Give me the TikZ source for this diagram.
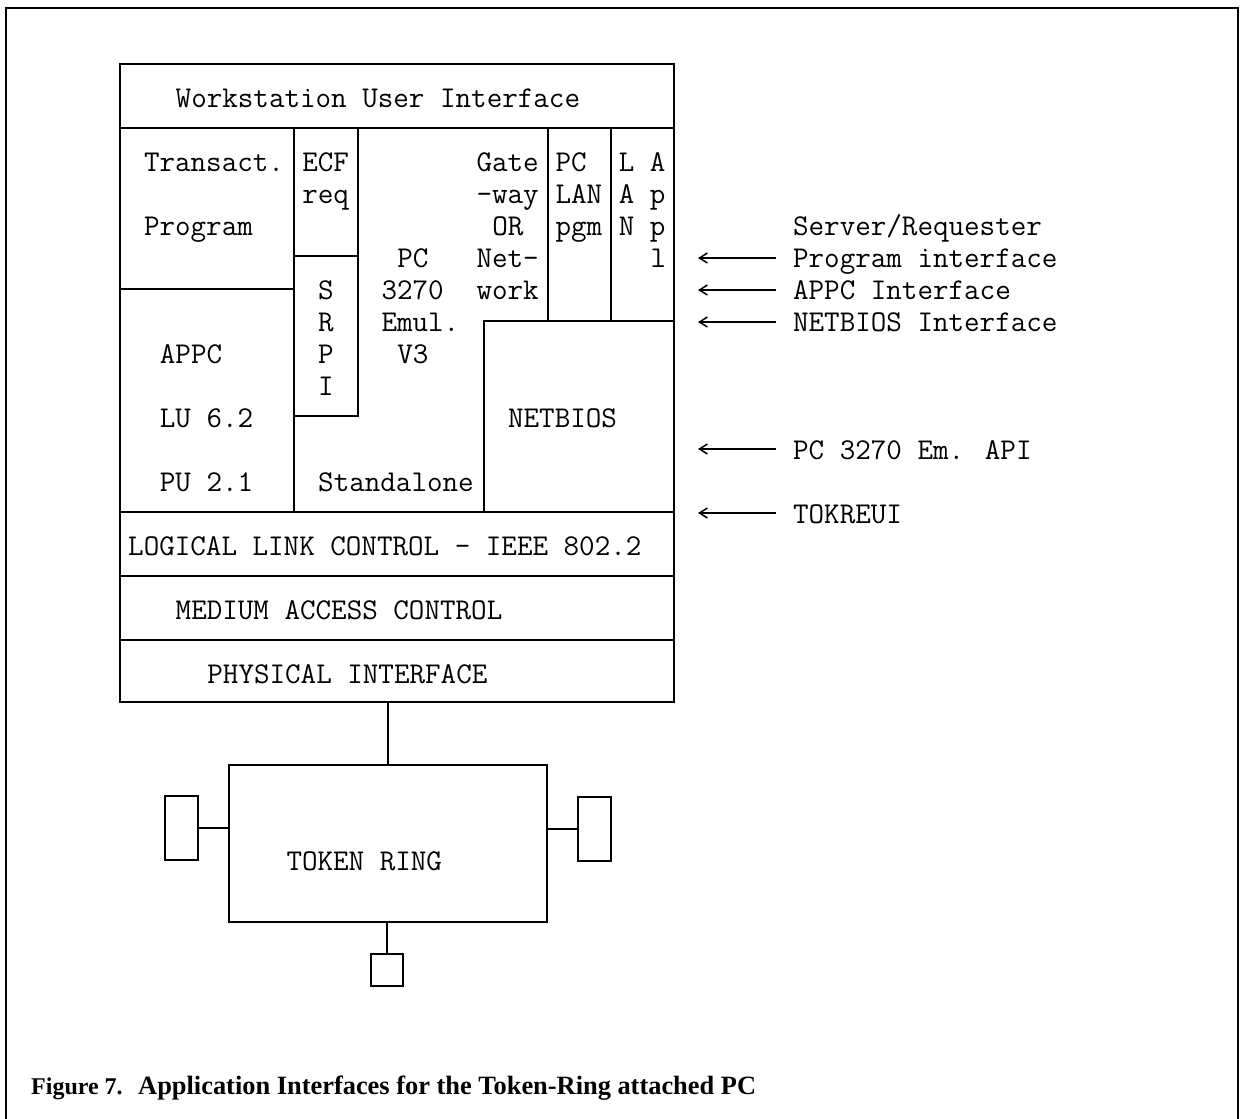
\documentclass[tikz,border=0pt]{standalone}
\usepackage{fontspec}
\newfontfamily\capfont{Liberation Serif}
\usetikzlibrary{arrows.meta,fit}
\newcommand{\twfont}{\ttfamily\fontsize{30.2}{32}\selectfont\addfontfeatures{FakeBold=1.8}}

\begin{document}
\begin{tikzpicture}[x=1pt, y=-1pt,
  layer/.style={draw, line width=2, inner sep=0, outer sep=0},
  txt/.style={anchor=base west, inner sep=0, font=\twfont},
  link/.style={line width=2},
  arrow/.style={{Straight Barb[length=8,width=10]}-, line width=1.5},
  caption/.style={anchor=base west, inner sep=0, font=\capfont\bfseries\fontsize{26.4}{28}\selectfont}
]
\useasboundingbox (0,0) rectangle (1240,1119);
\draw[link] (6,1119) -- (6,8) -- (1238,8) -- (1238,1119);

% layers of the PC
\node[layer, fit={(120,64) (674,702)}] (pc) {};
\node[layer, fit={(120,64) (674,128)}] (wui) {};
\node[layer, fit={(120,128) (294,288.5)}] (tp) {};
\node[layer, fit={(294,128) (357.5,256)}] (ecf) {};
\node[layer, fit={(294,256) (357.5,416)}] (srpi) {};
\node[layer, fit={(120,288.5) (294,512)}] (appc) {};
\node[layer, fit={(547.5,128) (611,321)}] (pclan) {};
\node[layer, fit={(611,128) (674,321)}] (lanapp) {};
\node[layer, fit={(484,321) (674,512)}] (netbios) {};
\node[layer, fit={(120,512) (674,576)}] (llc) {};
\node[layer, fit={(120,576) (674,640)}] (mac) {};
\node[layer, fit={(120,640) (674,702)}] (phy) {};

\node[txt] (wuit) at (175.5,107) {Workstation User Interface};
\node[txt] (tpa) at (143.8,171) {Transact.};
\node[txt] (tpb) at (143.8,235) {Program};
\node[txt] (ecfa) at (302.1,171) {ECF};
\node[txt] (ecfb) at (302.1,203) {req};
\node[txt] (gwa) at (476.3,171) {Gate};
\node[txt] (gwb) at (476.3,203) {-way};
\node[txt] (gwc) at (492.1,235) {OR};
\node[txt] (gwd) at (476.3,267) {Net-};
\node[txt] (gwe) at (476.3,299) {work};
\node[txt] (pcla) at (555.4,171) {PC};
\node[txt] (pclb) at (555.4,203) {LAN};
\node[txt] (pclc) at (555.4,235) {pgm};
\node[txt] (lana) at (618.7,171) {L A};
\node[txt] (lanb) at (618.7,203) {A p};
\node[txt] (lanc) at (618.7,235) {N p};
\node[txt] (land) at (650.4,267) {l};
\node[txt] (emua) at (397.1,267) {PC};
\node[txt] (emub) at (381.3,299) {3270};
\node[txt] (emuc) at (381.3,331) {Emul.};
\node[txt] (emud) at (397.1,363) {V3};
\node[txt] (srpia) at (318,299) {S};
\node[txt] (srpib) at (318,331) {R};
\node[txt] (srpic) at (318,363) {P};
\node[txt] (srpid) at (318,395) {I};
\node[txt] (appca) at (159.7,363) {APPC};
\node[txt] (appcb) at (159.7,427) {LU 6.2};
\node[txt] (appcc) at (159.7,491) {PU 2.1};
\node[txt] (stand) at (318,491) {Standalone};
\node[txt] (nbt) at (507.9,427) {NETBIOS};
\node[txt] (llct) at (128,555) {LOGICAL LINK CONTROL - IEEE 802.2};
\node[txt] (mact) at (175.5,619) {MEDIUM ACCESS CONTROL};
\node[txt] (phyt) at (207.2,683) {PHYSICAL INTERFACE};

% interfaces
\node[txt] (srv) at (792.9,235) {Server/Requester};
\node[txt] (ifprog) at (792.9,267) {Program interface};
\node[txt] (ifappc) at (792.9,299) {APPC Interface};
\node[txt] (ifnb) at (792.9,331) {NETBIOS Interface};
\node[txt] (ifemu) at (792.9,459) {PC 3270 Em. API};
\node[txt] (iftok) at (792.9,523) {TOKREUI};
\coordinate (tprog) at (698,258);
\coordinate (tappc) at (698,290);
\coordinate (tnb) at (698,322);
\coordinate (temu) at (698,449);
\coordinate (ttok) at (698,513);
\draw[arrow] (tprog) -- ([xshift=-17]tprog -| ifprog.west);
\draw[arrow] (tappc) -- ([xshift=-17]tappc -| ifappc.west);
\draw[arrow] (tnb) -- ([xshift=-17]tnb -| ifnb.west);
\draw[arrow] (temu) -- ([xshift=-17]temu -| ifemu.west);
\draw[arrow] (ttok) -- ([xshift=-17]ttok -| iftok.west);

% token ring
\node[layer, fit={(229,765) (547,922)}] (ring) {};
\node[txt] (ringt) at (286.3,870) {TOKEN RING};
\node[layer, fit={(165,796) (197.5,860)}] (stnl) {};
\node[layer, fit={(578,797) (610.5,861)}] (stnr) {};
\node[layer, fit={(371,954) (403,986)}] (stnb) {};
\draw[link] (ring.north) -- (ring.north |- phy.south);
\draw[link] (stnl.east) -- (stnl.east -| ring.west);
\draw[link] (stnr.west) -- (stnr.west -| ring.east);
\draw[link] (stnb.north) -- (stnb.north |- ring.south);

\node[caption, font=\capfont\bfseries\fontsize{24}{26}\selectfont] (fig) at (31,1094) {Figure 7.};
\node[caption] (capt) at (138,1094) {Application Interfaces for the Token-Ring attached PC};
\end{tikzpicture}
\end{document}
